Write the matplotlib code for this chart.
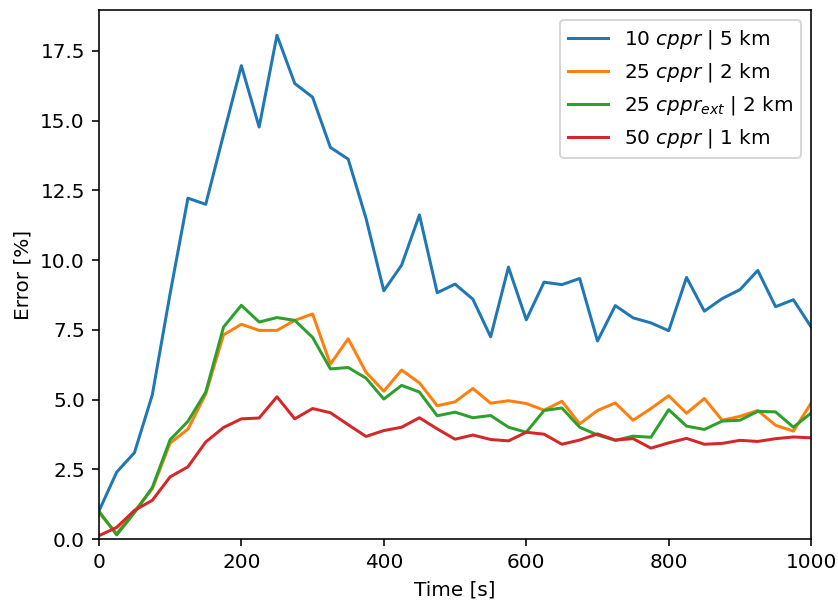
import numpy as np
import matplotlib
matplotlib.use('Agg')
import matplotlib.pyplot as plt

# Simulation time grid [s]
time = np.arange(0, 1001, 25)

# Relative error [%] for each configuration
err_10cppr = [1.0, 2.4, 3.1, 5.17, 8.8, 12.22, 12.0, 14.5, 16.97, 14.77,
              18.06, 16.33, 15.84, 14.04, 13.62, 11.5, 8.9, 9.82, 11.62, 8.83,
              9.14, 8.6, 7.25, 9.75, 7.86, 9.21, 9.12, 9.34, 7.1, 8.37,
              7.93, 7.75, 7.47, 9.38, 8.17, 8.62, 8.94, 9.63, 8.33, 8.58, 7.6]
err_25cppr = [0.95, 0.2, 1.0, 1.8, 3.44, 3.94, 5.2, 7.32, 7.7, 7.48,
              7.48, 7.84, 8.07, 6.27, 7.18, 5.98, 5.3, 6.06, 5.6, 4.78,
              4.92, 5.4, 4.87, 4.96, 4.86, 4.62, 4.94, 4.13, 4.61, 4.88,
              4.26, 4.68, 5.14, 4.51, 5.04, 4.26, 4.4, 4.61, 4.08, 3.87, 4.88]
err_25cppr_ext = [1.0, 0.15, 0.95, 1.85, 3.56, 4.22, 5.27, 7.6, 8.38, 7.78,
                  7.94, 7.84, 7.23, 6.1, 6.15, 5.77, 5.02, 5.51, 5.27, 4.42,
                  4.55, 4.35, 4.43, 4.01, 3.83, 4.61, 4.7, 4.01, 3.73, 3.54,
                  3.69, 3.65, 4.64, 4.05, 3.93, 4.23, 4.26, 4.58, 4.56, 4.01, 4.52]
err_50cppr = [0.12, 0.42, 1.03, 1.39, 2.23, 2.59, 3.48, 4.0, 4.31, 4.34,
              5.1, 4.31, 4.68, 4.53, 4.1, 3.68, 3.89, 4.01, 4.35, 3.95,
              3.58, 3.73, 3.57, 3.52, 3.83, 3.76, 3.4, 3.55, 3.77, 3.55,
              3.6, 3.26, 3.45, 3.61, 3.4, 3.43, 3.54, 3.5, 3.6, 3.66, 3.63]

labels = [r'10 $cppr$ | 5 km',
          r'25 $cppr$ | 2 km',
          r'25 $cppr_{ext}$ | 2 km',
          r'50 $cppr$ | 1 km']

fig, ax = plt.subplots(figsize=(838 / 144, 601 / 144), dpi=144)
fig.subplots_adjust(left=0.118, right=0.968, top=0.983, bottom=0.103)

for series, label in zip([err_10cppr, err_25cppr, err_25cppr_ext, err_50cppr], labels):
    ax.plot(time, series, label=label)

ax.set_xlim(0, 1000)
ax.set_ylim(bottom=0)
ax.set_xlabel('Time [s]')
ax.set_ylabel('Error [%]')
ax.legend(loc='upper right')

fig.savefig('out.png', dpi=144)
